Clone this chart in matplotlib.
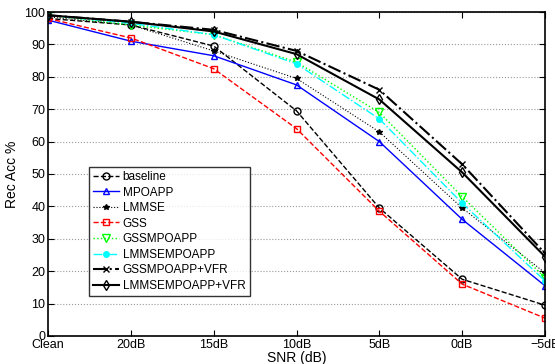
import numpy as np
import matplotlib.pyplot as plt

plt.rcParams['font.family'] = ['Liberation Sans', 'DejaVu Sans']

snr_labels = ["Clean", "20dB", "15dB", "10dB", "5dB", "0dB", "\u22125dB"]

baseline = [98.0, 96.0, 89.5, 69.5, 39.5, 17.5, 9.5]
mpoapp = [97.5, 91.0, 86.5, 77.5, 60.0, 36.0, 15.5]
lmmse = [98.5, 96.0, 88.0, 79.5, 63.0, 39.5, 19.5]
gss = [98.0, 92.0, 82.5, 64.0, 38.5, 16.0, 5.5]
gssmpoapp = [99.0, 96.0, 93.0, 84.5, 69.0, 43.0, 18.0]
lmmsempoapp = [99.0, 96.5, 93.0, 84.0, 67.0, 41.0, 17.0]
gssmpoapp_vfr = [99.0, 97.0, 94.5, 88.0, 76.0, 53.0, 25.5]
lmmsempoapp_vfr = [99.0, 97.0, 94.0, 87.0, 73.0, 50.5, 24.5]

x = np.arange(len(snr_labels))

fig = plt.figure(figsize=(5.55, 3.64), dpi=100)
ax = fig.add_axes([0.0865, 0.077, 0.8955, 0.890])

ax.plot(x, baseline, 'k--', marker='o', mfc='none', ms=5, lw=1, label='baseline')
ax.plot(x, mpoapp, 'b-', marker='^', mfc='none', ms=5, lw=1, label='MPOAPP')
ax.plot(x, lmmse, color='k', ls=':', marker='*', ms=4, lw=0.8, label='LMMSE')
ax.plot(x, gss, 'r--', marker='s', mfc='none', ms=4.5, lw=1, label='GSS')
ax.plot(x, gssmpoapp, color='#00ff00', ls=':', marker='v', mfc='none', ms=5.5, lw=1, label='GSSMPOAPP')
ax.plot(x, lmmsempoapp, color='cyan', ls='-.', marker='.', ms=8, lw=1, label='LMMSEMPOAPP')
ax.plot(x, gssmpoapp_vfr, color='k', ls='-.', marker='x', ms=4, lw=1.5, label='GSSMPOAPP+VFR')
ax.plot(x, lmmsempoapp_vfr, 'k-', marker='d', mfc='none', ms=5, lw=1.5, label='LMMSEMPOAPP+VFR')

ax.set_xlim(0, len(snr_labels) - 1)
ax.set_ylim(0, 100)
ax.set_xticks(x)
ax.set_xticklabels(snr_labels)
ax.set_yticks(np.arange(0, 101, 10))
ax.yaxis.grid(True, ls=':', color='#999999', lw=0.8)
ax.tick_params(direction='in', top=True, right=True, labelsize=9, length=4)
ax.tick_params(axis='x', pad=2)
ax.tick_params(axis='y', pad=2)
for s in ax.spines.values():
    s.set_linewidth(1.2)

ax.set_xlabel('SNR (dB)', fontsize=10, labelpad=0)
ax.set_ylabel('Rec Acc %', fontsize=10, labelpad=4)

leg = ax.legend(loc='upper left', bbox_to_anchor=(0.0825, 0.522), fontsize=8.5,
                frameon=True, fancybox=False, edgecolor='k', handlelength=2.2,
                handletextpad=0.3, borderpad=0.35, labelspacing=0.3, borderaxespad=0)
leg.get_frame().set_linewidth(1)

fig.savefig('out.png', dpi=100)
